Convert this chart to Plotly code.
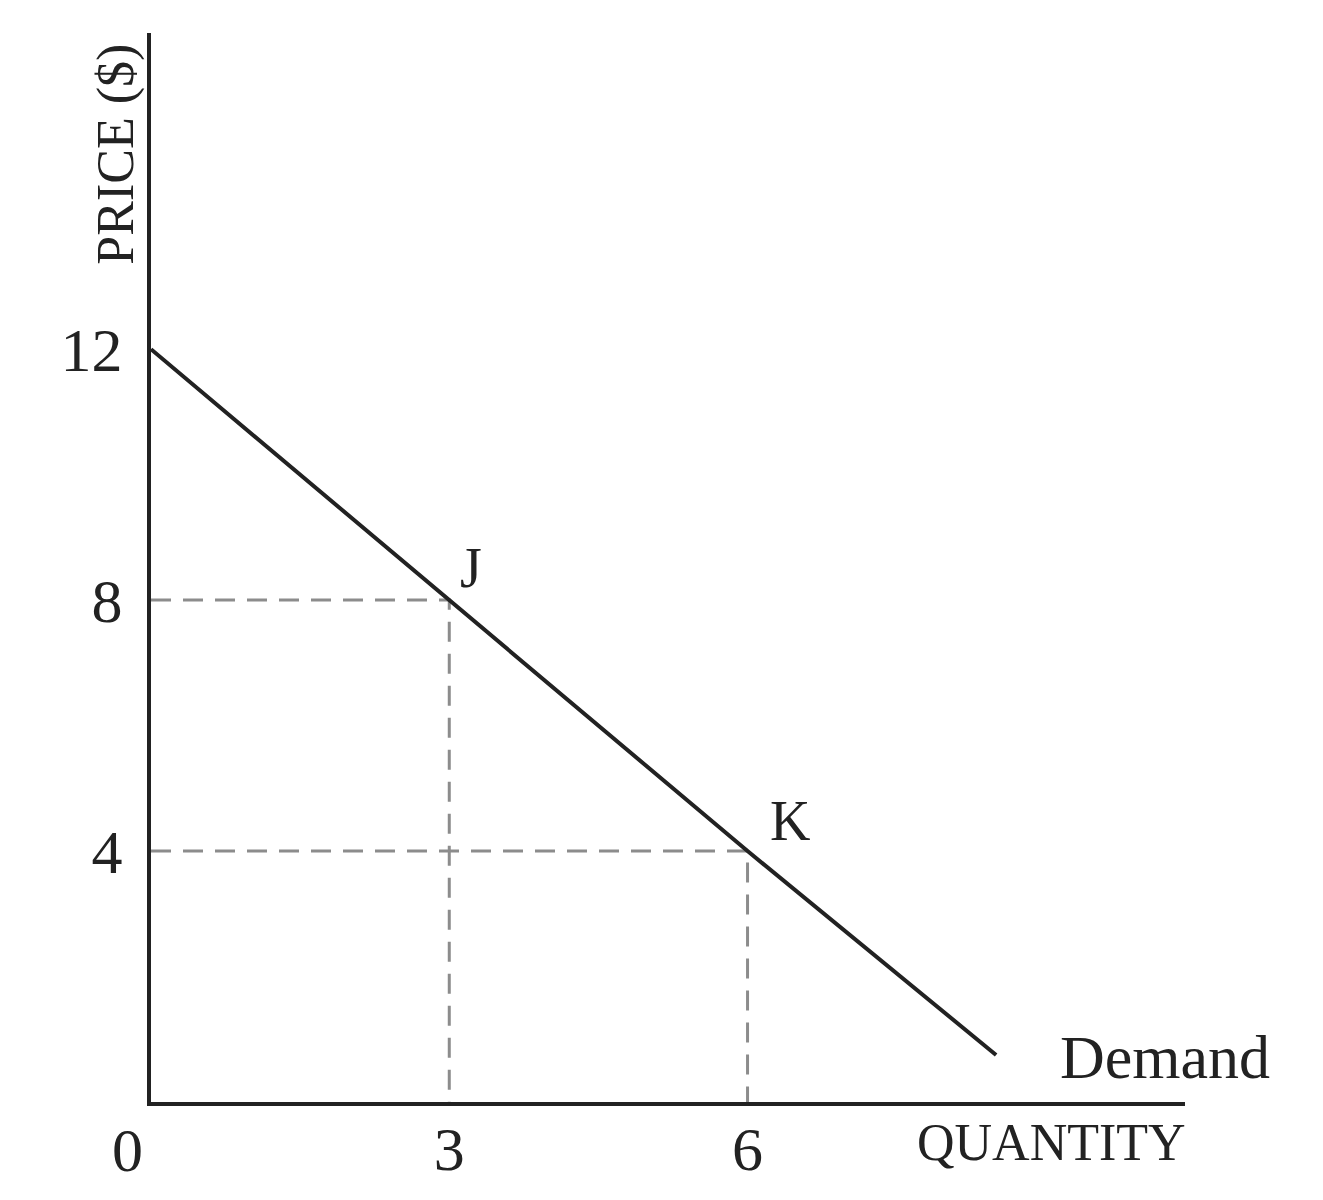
import plotly.graph_objects as go

# Data
demand_q = [0, 3, 6, 8.5]
demand_p = [12, 8, 4, 0.75]
point_names = ["J", "K"]
point_q = [3, 6]
point_p = [8, 4]
x_ticks = [3, 6]
y_ticks = [4, 8, 12]

FONT = "Liberation Serif"
INK = "#222222"
DASH = "#8c8c8c"

fig = go.Figure()

for q, p in zip(point_q, point_p):
    fig.add_trace(go.Scatter(
        x=[0, q, q], y=[p, p, 0], mode="lines",
        line=dict(color=DASH, width=3, dash="20px,12px"),
        hoverinfo="skip", showlegend=False))

fig.add_trace(go.Scatter(
    x=demand_q, y=demand_p, mode="lines",
    line=dict(color=INK, width=4), showlegend=False, name="Demand"))

annotations = []
shifts = {"J": (22, 32), "K": (42, 30)}
for n, q, p in zip(point_names, point_q, point_p):
    dx, dy = shifts[n]
    annotations.append(dict(x=q, y=p, text=n, showarrow=False,
                            xshift=dx, yshift=dy,
                            font=dict(family=FONT, size=56, color=INK)))

annotations.append(dict(x=demand_q[-1], y=demand_p[-1], text="Demand",
                        showarrow=False, xanchor="left", yanchor="middle",
                        xshift=62, yshift=-2,
                        font=dict(family=FONT, size=62, color=INK)))
annotations.append(dict(x=1, xref="paper", y=0, text="QUANTITY",
                        showarrow=False, xanchor="right", yanchor="middle",
                        xshift=3, yshift=-40,
                        font=dict(family=FONT, size=52, color=INK)))
annotations.append(dict(x=0, y=15.1, text="PRICE ($)", textangle=-90,
                        showarrow=False, xanchor="center", yanchor="middle",
                        xshift=-35,
                        font=dict(family=FONT, size=52, color=INK)))
annotations.append(dict(x=0, y=0, text="0", showarrow=False,
                        xanchor="center", yanchor="middle",
                        xshift=-24, yshift=-48,
                        font=dict(family=FONT, size=62, color=INK)))

fig.update_layout(
    width=1323, height=1200,
    margin=dict(l=143, r=146, t=25, b=106),
    paper_bgcolor="white", plot_bgcolor="white",
    showlegend=False,
    annotations=annotations,
    font=dict(family=FONT, color=INK),
)
fig.update_xaxes(range=[0, 10.4], showgrid=False, zeroline=False,
                 automargin=False,
                 showline=True, linecolor=INK, linewidth=4,
                 tickvals=x_ticks, ticktext=[str(v) for v in x_ticks],
                 ticks="", tickfont=dict(family=FONT, size=62, color=INK),
                 ticklabelstandoff=-10)
fig.update_yaxes(range=[0, 17.04], showgrid=False, zeroline=False,
                 automargin=False,
                 showline=True, linecolor=INK, linewidth=4,
                 tickvals=y_ticks, ticktext=[str(v) for v in y_ticks],
                 ticks="", tickfont=dict(family=FONT, size=62, color=INK),
                 ticklabelstandoff=12)

fig.write_html("out.html")
